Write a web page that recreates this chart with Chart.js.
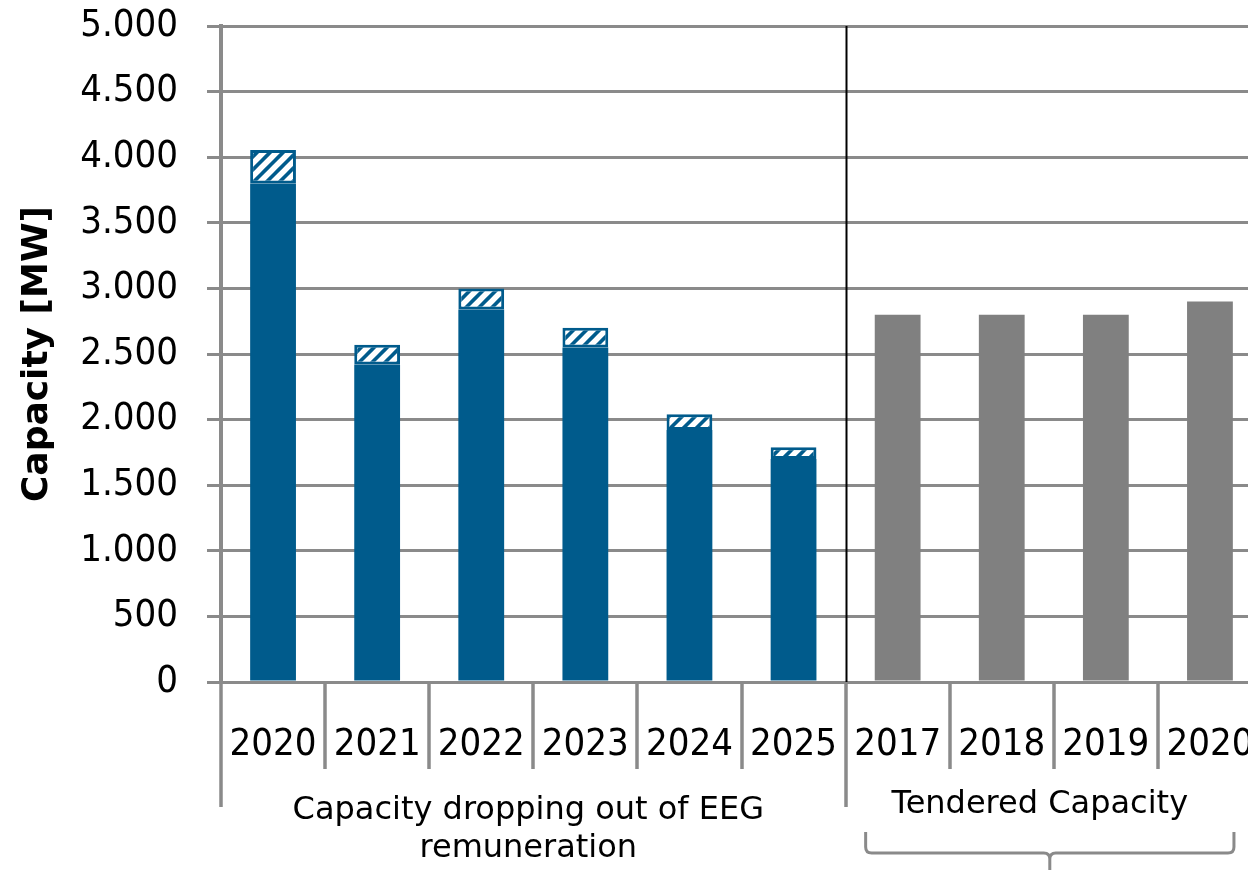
<!DOCTYPE html>
<html>
<head>
<meta charset="utf-8">
<script src="https://cdn.jsdelivr.net/npm/chart.js@4.4.1/dist/chart.umd.min.js"></script>
<style>
  html, body { margin: 0; padding: 0; overflow: hidden; background: #ffffff; }
  #wrap { position: absolute; left: 0; top: 0; width: 1262px; height: 870px; }
</style>
</head>
<body>
<div id="wrap"><canvas id="c" width="1262" height="870"></canvas></div>
<script>
// Capacity per year (MW)
const categories = ['2020', '2021', '2022', '2023', '2024', '2025', '2017', '2018', '2019', '2020'];
const expiringBase    = [3800, 2420, 2840, 2550, 1920, 1700, null, null, null, null];
const expiringHatched = [ 255,  150,  160,  150,  120,   90, null, null, null, null];
const tendered        = [null, null, null, null, null, null, 2800, 2800, 2800, 2900];
const yTickValues = [0, 500, 1000, 1500, 2000, 2500, 3000, 3500, 4000, 4500, 5000];
const groupLabels = [
  ['Capacity dropping out of EEG', 'remuneration'],
  ['Tendered Capacity']
];
const groupStarts = [0, 6];

const BLUE = '#005b8c';
const GREY_BAR = '#808080';
const GRID = '#8a8a8a';
const TICK_FONT = "'DejaVu Sans Condensed', 'DejaVu Sans', sans-serif";
const LABEL_FONT = "'DejaVu Sans', sans-serif";

function makeHatch() {
  const s = 13;
  const t = document.createElement('canvas');
  t.width = s; t.height = s;
  const g = t.getContext('2d');
  g.fillStyle = BLUE;
  g.fillRect(0, 0, s, s);
  g.strokeStyle = '#ffffff';
  g.lineWidth = 5.5;
  g.beginPath();
  g.moveTo(0, s); g.lineTo(s, 0);
  g.moveTo(-s / 2, s / 2); g.lineTo(s / 2, -s / 2);
  g.moveTo(s / 2, s * 1.5); g.lineTo(s * 1.5, s / 2);
  g.stroke();
  return document.getElementById('c').getContext('2d').createPattern(t, 'repeat');
}

function fmtThousands(v) {
  return String(v).replace(/\B(?=(\d{3})+(?!\d))/g, '.');
}

const decorations = {
  id: 'decorations',
  afterDatasetsDraw(chart) {
    const { ctx, chartArea, scales } = chart;
    const x = scales.x;
    const half = (x.getPixelForValue(1) - x.getPixelForValue(0)) / 2;
    const bottom = chartArea.bottom;
    const boundary = i => x.getPixelForValue(i) - half;

    ctx.save();
    // separator between the two groups inside the plot
    ctx.strokeStyle = '#000000';
    ctx.lineWidth = 2;
    ctx.beginPath();
    ctx.moveTo(Math.round(boundary(groupStarts[1])) + 0.5, chartArea.top);
    ctx.lineTo(Math.round(boundary(groupStarts[1])) + 0.5, bottom);
    ctx.stroke();

    // category separators under the axis
    ctx.strokeStyle = GRID;
    ctx.lineWidth = 3.5;
    for (let i = 0; i <= categories.length; i++) {
      const px = Math.round(boundary(i));
      const isGroup = groupStarts.includes(i);
      ctx.beginPath();
      ctx.moveTo(px, bottom);
      ctx.lineTo(px, bottom + (isGroup ? 125 : 87));
      ctx.stroke();
    }

    // group labels
    ctx.fillStyle = '#000000';
    ctx.font = '32px ' + LABEL_FONT;
    ctx.textAlign = 'center';
    ctx.textBaseline = 'middle';
    const c1 = (boundary(groupStarts[0]) + boundary(groupStarts[1])) / 2 - 5;
    groupLabels[0].forEach((line, k) => ctx.fillText(line, c1, 811 + k * 38));
    const c2 = (x.getPixelForValue(6) + x.getPixelForValue(9)) / 2 - 14;
    ctx.fillText(groupLabels[1][0], c2, 805);

    // brace under the second group
    const bl = x.getPixelForValue(6) - 32;
    const br = x.getPixelForValue(9) + 24;
    const bm = (bl + br) / 2;
    const by = 853;
    ctx.strokeStyle = GRID;
    ctx.lineWidth = 3;
    ctx.beginPath();
    ctx.moveTo(bl, 832);
    ctx.lineTo(bl, by - 6);
    ctx.quadraticCurveTo(bl, by, bl + 6, by);
    ctx.lineTo(bm - 6, by);
    ctx.quadraticCurveTo(bm, by, bm, by + 6);
    ctx.lineTo(bm, 872);
    ctx.moveTo(bm, by + 6);
    ctx.quadraticCurveTo(bm, by, bm + 6, by);
    ctx.lineTo(br - 6, by);
    ctx.quadraticCurveTo(br, by, br, by - 6);
    ctx.lineTo(br, 832);
    ctx.stroke();
    ctx.restore();
  }
};

new Chart(document.getElementById('c'), {
  type: 'bar',
  data: {
    labels: categories,
    datasets: [
      { data: expiringBase, backgroundColor: BLUE, borderWidth: 0 },
      { data: expiringHatched, backgroundColor: makeHatch(), borderColor: BLUE, borderWidth: 3, borderSkipped: false },
      { data: tendered, backgroundColor: GREY_BAR, borderWidth: 0 }
    ]
  },
  options: {
    responsive: false,
    animation: false,
    devicePixelRatio: 1,
    layout: { padding: { top: 26, left: 0, right: 0, bottom: 0 } },
    plugins: { legend: { display: false }, tooltip: { enabled: false } },
    datasets: { bar: { categoryPercentage: 1, barPercentage: 0.44 } },
    scales: {
      x: {
        stacked: true,
        offset: true,
        grid: { display: true, offset: true, drawOnChartArea: false, drawTicks: false, color: GRID },
        border: { display: false },
        ticks: { color: '#000000', font: { family: TICK_FONT, size: 38 }, padding: 40, maxRotation: 0, autoSkip: false },
        afterFit(scale) {
          scale.height = 188;
          scale.paddingLeft = 0;
          scale.paddingRight = 0;
        }
      },
      y: {
        stacked: true,
        min: 0,
        max: 5000,
        afterBuildTicks(scale) { scale.ticks = yTickValues.map(v => ({ value: v })); },
        grid: { color: GRID, lineWidth: 3, tickLength: 14, drawTicks: true },
        border: { display: true, color: GRID, width: 4 },
        ticks: {
          color: '#000000',
          font: { family: TICK_FONT, size: 38 },
          padding: 29,
          callback: v => fmtThousands(v)
        },
        title: {
          display: true,
          text: 'Capacity [MW]',
          color: '#000000',
          font: { family: LABEL_FONT, size: 36, weight: 'bold' },
          padding: { top: 16, bottom: 0 }
        },
        afterFit(scale) {
          scale.width = 221;
          scale.paddingTop = 0;
          scale.paddingBottom = 0;
        }
      }
    }
  },
  plugins: [decorations]
});
</script>
</body>
</html>
